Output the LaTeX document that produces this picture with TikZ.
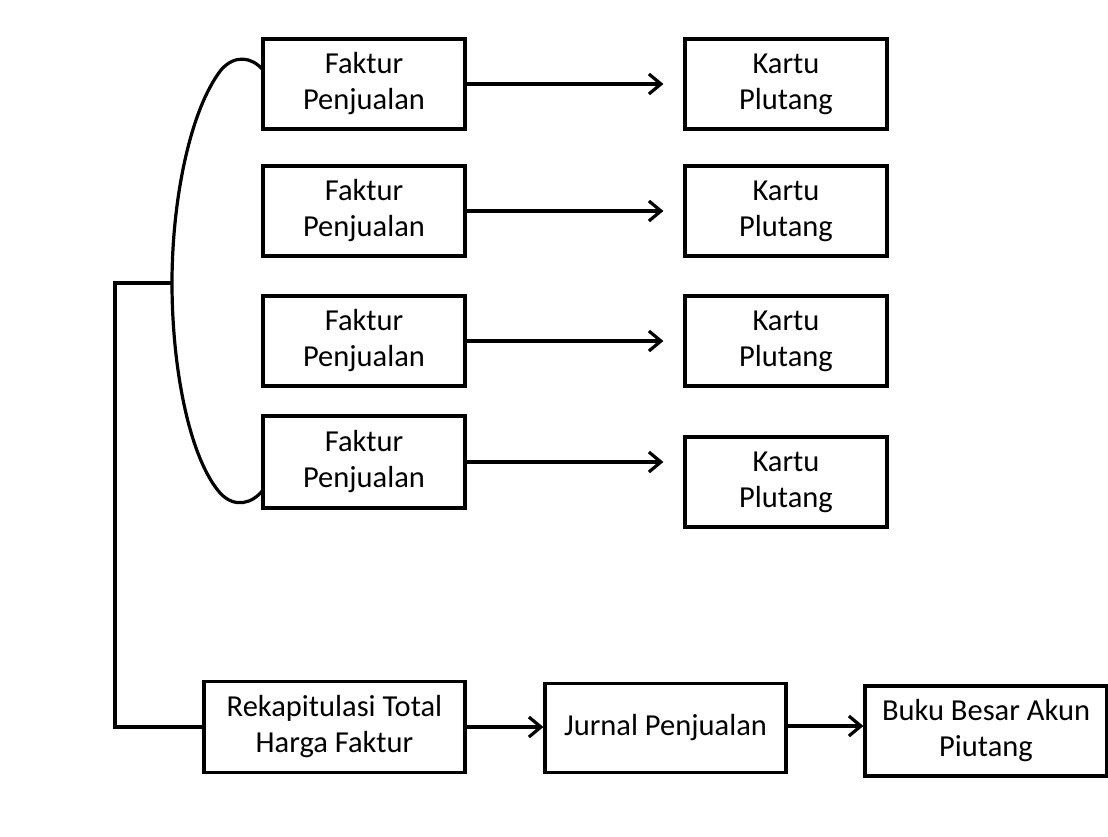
\documentclass[tikz,border=0pt]{standalone}
\usepackage{fontspec}
\setmainfont{Carlito}
\usepackage{tikz}
\usetikzlibrary{arrows.meta, positioning}
\definecolor{inkblack}{RGB}{0, 0, 0}
\tikzset{
  docbox/.style={rectangle, minimum width=202pt, minimum height=90pt,
    text centered, align=center, draw=inkblack, line width=3.2pt,
    inner sep=0pt, font=\fontsize{30.5}{36}\selectfont},
  widebox/.style={docbox, minimum width=242pt},
  arrow/.style={line width=3.2pt, -{Straight Barb[length=12pt,width=20pt,line width=3.2pt]}, color=inkblack},
  link/.style={line width=3.2pt, color=inkblack}
}
\begin{document}
\begin{tikzpicture}[x=1pt, y=-1pt]
\useasboundingbox (0,0) rectangle (1108,836);
\node (f1) [docbox] at (364,84)  {Faktur\\Penjualan};
\node (f2) [docbox] at (364,211) {Faktur\\Penjualan};
\node (f3) [docbox] at (364,341) {Faktur\\Penjualan};
\node (f4) [docbox, minimum height=92pt] at (364,462) {Faktur\\Penjualan};
\node (k1) [docbox] at (786,84)  {Kartu\\Plutang};
\node (k2) [docbox] at (786,211) {Kartu\\Plutang};
\node (k3) [docbox] at (786,341) {Kartu\\Plutang};
\node (k4) [docbox] at (786,482) {Kartu\\Plutang};
\node (rekap)  [widebox, minimum width=261pt, minimum height=91pt] at (334.5,727) {Rekapitulasi Total\\Harga Faktur};
\node (jurnal) [widebox, minimum width=241pt, minimum height=89pt] at (665.5,728) {Jurnal Penjualan};
\node (buku)   [widebox] at (986,731) {Buku Besar Akun\\Piutang};

\draw[arrow, shorten >=20pt] (f1) -- (k1);
\draw[arrow, shorten >=20pt] (f2) -- (k2);
\draw[arrow, shorten >=20pt] (f3) -- (k3);
\draw[arrow, shorten >=20pt] (f4.east) -- (f4.east -| k4.west);
\draw[arrow] (rekap.east) -- (rekap.east -| jurnal.west);
\draw[arrow] ([yshift=2pt]jurnal.east) -- ([yshift=2pt]jurnal.east -| buku.west);

% bracket round the invoices
\coordinate (top) at (263,70);
\coordinate (brace) at (172,283);
\coordinate (bottom) at (263,490);
\coordinate (join) at (115,283);
\draw[link] (top) .. controls (252,57) and (235,54) .. (221,70)
  .. controls (190,110) and (172,200) .. (brace)
  .. controls (172,370) and (190,460) .. (221,494)
  .. controls (235,508) and (252,504) .. (bottom);
\draw[link] (brace) -- (join) |- (rekap.west);
\end{tikzpicture}
\end{document}
